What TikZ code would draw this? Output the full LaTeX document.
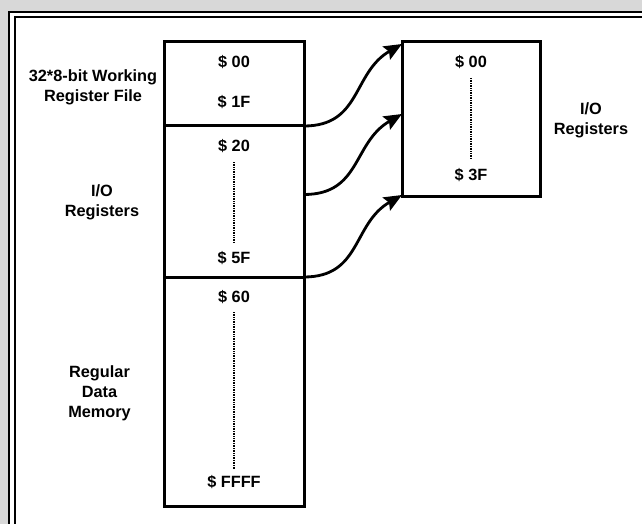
\documentclass[tikz,border=0pt]{standalone}
\usepackage{fontspec}
\setmainfont{Liberation Sans}
\usetikzlibrary{arrows.meta,calc}
\definecolor{bggray}{HTML}{D8D8D8}
\begin{document}
\begin{tikzpicture}[x=1pt,y=-1pt,
  membox/.style={draw,line width=3pt,minimum width=140pt,inner sep=0pt,outer sep=0pt},
  lbl/.style={font=\fontsize{16.3}{20}\selectfont\bfseries,align=center,inner sep=0pt},
  dots/.style={line width=1.4pt,dash pattern=on 1pt off 0.7pt},
  link/.style={line width=2.8pt,arrows={-Stealth[length=18pt,width=15pt,inset=3pt]}},
  frameline/.style={line width=2.6pt}]
\useasboundingbox (0,0) rectangle (642,524);
% background and frame
\fill[bggray] (0,0) rectangle (642,524);
\fill[white] (9,12) rectangle (645,527);
\draw[frameline] (9,530) -- (9,12) -- (650,12);
\draw[frameline] (15,530) -- (15,17) -- (650,17);
% memory map boxes
\node[membox,minimum height=84pt] (wr) at (234,84) {};
\node[membox,minimum height=151pt] (io) at (234,201.5) {};
\node[membox,minimum height=229pt] (rd) at (234,391.5) {};
\node[membox,minimum width=138pt,minimum height=154pt] (ior) at (471,119) {};
% addresses left
\node[lbl] (a00) at (234,62) {\$ 00};
\node[lbl] (a1f) at (234,102) {\$ 1F};
\node[lbl] (a20) at (234,146) {\$ 20};
\node[lbl] (a5f) at (234,258) {\$ 5F};
\node[lbl] (a60) at (234,297) {\$ 60};
\node[lbl] (affff) at (234,482) {\$ FFFF};
\draw[dots] (234,162) -- (234,243);
\draw[dots] (234,312) -- (234,469);
% addresses right
\node[lbl] (b00) at (471,62) {\$ 00};
\node[lbl] (b3f) at (471,175) {\$ 3F};
\draw[dots] (471,78) -- (471,158);
% side labels
\node[lbl] (lwr) at (93,87) {32*8-bit Working\\Register File};
\node[lbl] (lio) at (102,202) {I/O\\Registers};
\node[lbl] (lrd) at (99.5,393) {Regular\\Data\\Memory};
\node[lbl] (lior) at (591,120) {I/O\\Registers};
% links
\draw[link] (wr.south east) to[out=0,in=210,looseness=1.15] ($(ior.north west)+(0,2)$);
\draw[link] ($(io.east)+(0,-7)$) to[out=0,in=210,looseness=1.15] ($(ior.west)+(0,-5)$);
\draw[link] (io.south east) to[out=0,in=210,looseness=1.15] ($(ior.south west)+(0,-1)$);
\end{tikzpicture}
\end{document}
